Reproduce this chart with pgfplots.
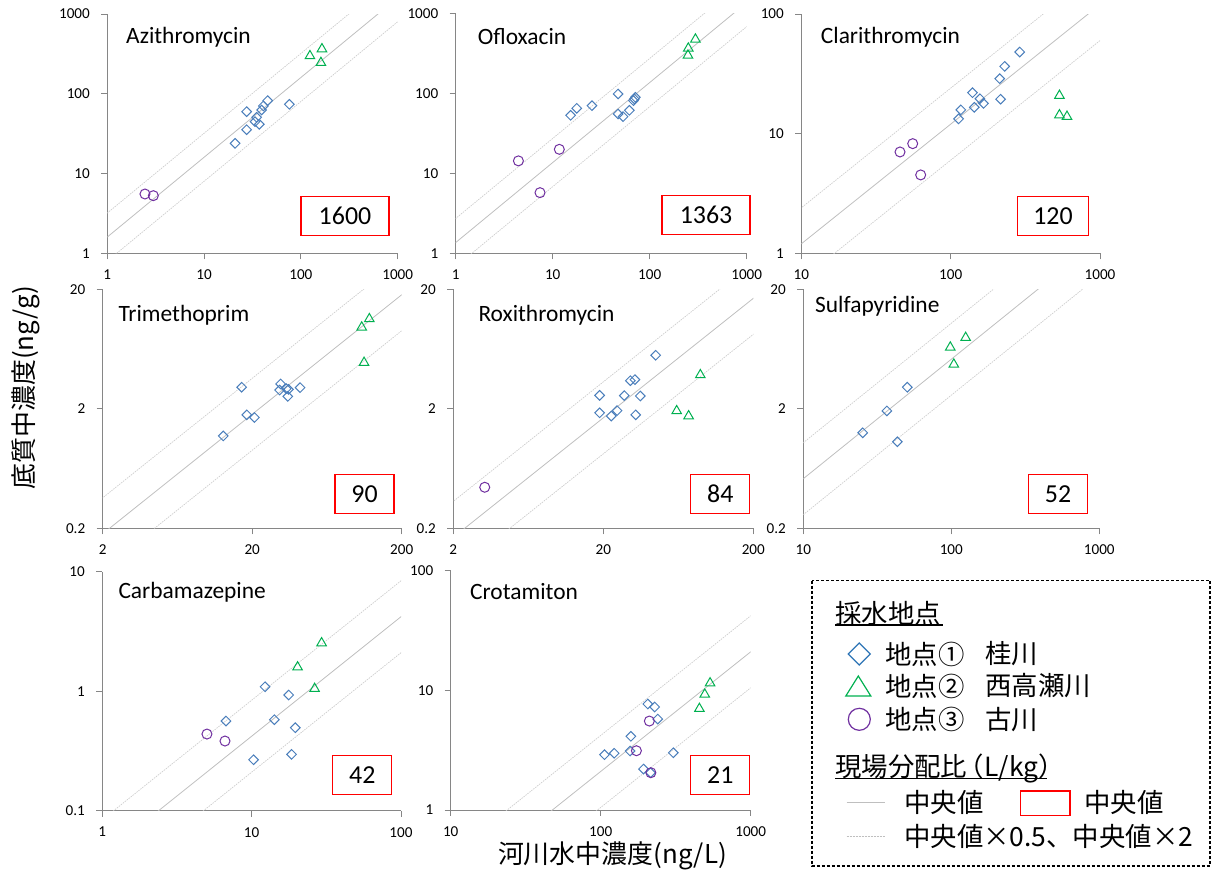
\documentclass[border=0pt]{standalone}
\usepackage{pgfplots}
\pgfplotsset{compat=1.18}
\usepackage{fontspec}
\setmainfont{Carlito}
\newfontfamily\jp{Noto Sans CJK JP}
\definecolor{cblue}{RGB}{74,126,187}
\definecolor{cblueL}{RGB}{46,117,182}
\definecolor{cgreen}{RGB}{0,176,80}
\definecolor{cpurple}{RGB}{112,48,160}
\definecolor{lgray}{RGB}{191,191,191}
\definecolor{lgray2}{RGB}{205,205,205}
\definecolor{axgray}{RGB}{134,134,134}
\newcommand{\ttl}[3]{\node[anchor=west, inner sep=0pt, font=\fontsize{23.5}{26}\selectfont] at (#1bp,-#2bp) {#3};}
\newcommand{\kdbox}[4]{\node[draw=red, line width=1.2bp, minimum width=#3bp, minimum height=39bp, inner sep=0pt, font=\fontsize{26}{28}\selectfont] at (#1bp,-#2bp) {#4};}
\begin{document}
\begin{tikzpicture}
\useasboundingbox (0,0) rectangle (1211bp,-872bp);
% ---------- P1 Azithromycin
\begin{axis}[scale only axis, xmode=log, ymode=log, axis x line*=bottom, axis y line*=left,
  axis line style={axgray, line width=0.9bp}, tick style={axgray, line width=0.9bp},
  major tick length=6bp, tick align=outside, xminorticks=false, yminorticks=false,
  ticklabel style={font=\fontsize{15.2}{16}\selectfont}, yticklabel style={xshift=-8bp}, xticklabel style={yshift=-7bp}, clip mode=individual,
  at={(107.3bp,-253.3bp)}, anchor=south west, width=290.4bp, height=239.3bp,
  xmin=1, xmax=1000, ymin=1, ymax=1000,
  xtick={1,10,100,1000}, xticklabels={1,10,100,1000},
  ytick={1,10,100,1000}, yticklabels={1,10,100,1000}]
\addplot[no marks, lgray2, line width=0.7bp, dash pattern=on 1.5bp off 1bp] coordinates {(0.1,0.32)(10000,32000)};
\addplot[no marks, lgray, line width=0.8bp] coordinates {(0.1,0.16)(10000,16000)};
\addplot[no marks, lgray2, line width=0.7bp, dash pattern=on 1.5bp off 1bp] coordinates {(0.1,0.08)(10000,8000)};
\addplot[only marks, mark=square, mark size=3.4bp, color=cblue, mark options={rotate=45, line width=1bp}] coordinates {(20.9,23.9)(27.5,59.7)(27.5,35.5)(33.6,44.7)(34.9,50.7)(37.2,41.4)(39.3,62.6)(40.9,70.3)(45.4,82.0)(76,73.8)};
\addplot[only marks, mark=triangle, mark size=5.5bp, color=cgreen, mark options={line width=1bp}] coordinates {(124,298)(165,364)(161,245)};
\addplot[only marks, mark=o, mark size=5bp, color=cpurple, mark options={line width=1bp}] coordinates {(2.45,5.54)(2.99,5.28)};
\end{axis}
% ---------- P2 Ofloxacin
\begin{axis}[scale only axis, xmode=log, ymode=log, axis x line*=bottom, axis y line*=left,
  axis line style={axgray, line width=0.9bp}, tick style={axgray, line width=0.9bp},
  major tick length=6bp, tick align=outside, xminorticks=false, yminorticks=false,
  ticklabel style={font=\fontsize{15.2}{16}\selectfont}, yticklabel style={xshift=-8bp}, xticklabel style={yshift=-7bp}, clip mode=individual,
  at={(455.7bp,-253.3bp)}, anchor=south west, width=291bp, height=240bp,
  xmin=1, xmax=1000, ymin=1, ymax=1000,
  xtick={1,10,100,1000}, xticklabels={1,10,100,1000},
  ytick={1,10,100,1000}, yticklabels={1,10,100,1000}]
\addplot[no marks, lgray2, line width=0.7bp, dash pattern=on 1.5bp off 1bp] coordinates {(0.1,0.2726)(10000,27260)};
\addplot[no marks, lgray, line width=0.8bp] coordinates {(0.1,0.1363)(10000,13630)};
\addplot[no marks, lgray2, line width=0.7bp, dash pattern=on 1.5bp off 1bp] coordinates {(0.1,0.06815)(10000,6815)};
\addplot[only marks, mark=square, mark size=3.4bp, color=cblue, mark options={rotate=45, line width=1bp}] coordinates {(15.3,53.1)(17.7,64.9)(25.4,70.1)(47.2,98.1)(47.2,55.2)(53.1,51.1)(61.7,61.3)(67.9,81.0)(71.2,89.1)(69.5,85)};
\addplot[only marks, mark=triangle, mark size=5.5bp, color=cgreen, mark options={line width=1bp}] coordinates {(296,473)(250,365)(248,298)};
\addplot[only marks, mark=o, mark size=5bp, color=cpurple, mark options={line width=1bp}] coordinates {(4.43,14.3)(11.7,19.95)(7.40,5.73)};
\end{axis}
% ---------- P3 Clarithromycin
\begin{axis}[scale only axis, xmode=log, ymode=log, axis x line*=bottom, axis y line*=left,
  axis line style={axgray, line width=0.9bp}, tick style={axgray, line width=0.9bp},
  major tick length=6bp, tick align=outside, xminorticks=false, yminorticks=false,
  ticklabel style={font=\fontsize{15.2}{16}\selectfont}, yticklabel style={xshift=-8bp}, xticklabel style={yshift=-7bp}, clip mode=individual,
  at={(801.3bp,-253.3bp)}, anchor=south west, width=298.7bp, height=239.3bp,
  xmin=10, xmax=1000, ymin=1, ymax=100,
  xtick={10,100,1000}, xticklabels={10,100,1000},
  ytick={1,10,100}, yticklabels={1,10,100}]
\addplot[no marks, lgray2, line width=0.7bp, dash pattern=on 1.5bp off 1bp] coordinates {(1,0.24)(10000,2400)};
\addplot[no marks, lgray, line width=0.8bp] coordinates {(1,0.12)(10000,1200)};
\addplot[no marks, lgray2, line width=0.7bp, dash pattern=on 1.5bp off 1bp] coordinates {(1,0.06)(10000,600)};
\addplot[only marks, mark=square, mark size=3.4bp, color=cblue, mark options={rotate=45, line width=1bp}] coordinates {(113,13.3)(117,15.8)(140,22.0)(144,16.6)(157,19.6)(166,17.9)(213,28.8)(216,19.4)(230,36.5)(290,48.1)};
\addplot[only marks, mark=triangle, mark size=5.5bp, color=cgreen, mark options={line width=1bp}] coordinates {(535,20.8)(535,14.3)(601,13.9)};
\addplot[only marks, mark=o, mark size=5bp, color=cpurple, mark options={line width=1bp}] coordinates {(45.8,7.03)(55.7,8.25)(63.0,4.52)};
\end{axis}
% ---------- P4 Trimethoprim
\begin{axis}[scale only axis, xmode=log, ymode=log, axis x line*=bottom, axis y line*=left,
  axis line style={axgray, line width=0.9bp}, tick style={axgray, line width=0.9bp},
  major tick length=6bp, tick align=outside, xminorticks=false, yminorticks=false,
  ticklabel style={font=\fontsize{15.2}{16}\selectfont}, yticklabel style={xshift=-8bp}, xticklabel style={yshift=-7bp}, clip mode=individual,
  at={(102.7bp,-528.3bp)}, anchor=south west, width=299bp, height=239bp,
  xmin=2, xmax=200, ymin=0.2, ymax=20,
  xtick={2,20,200}, xticklabels={2,20,200},
  ytick={0.2,2,20}, yticklabels={0.2,2,20}]
\addplot[no marks, lgray2, line width=0.7bp, dash pattern=on 1.5bp off 1bp] coordinates {(0.2,0.036)(2000,360)};
\addplot[no marks, lgray, line width=0.8bp] coordinates {(0.2,0.018)(2000,180)};
\addplot[no marks, lgray2, line width=0.7bp, dash pattern=on 1.5bp off 1bp] coordinates {(0.2,0.009)(2000,90)};
\addplot[only marks, mark=square, mark size=3.4bp, color=cblue, mark options={rotate=45, line width=1bp}] coordinates {(12.8,1.185)(17.0,3.03)(18.4,1.78)(20.7,1.69)(31.0,3.23)(30.5,2.87)(33.8,2.95)(35.0,2.91)(34.6,2.54)(41.8,3.01)};
\addplot[only marks, mark=triangle, mark size=5.5bp, color=cgreen, mark options={line width=1bp}] coordinates {(121.5,11.3)(108,9.62)(112,4.87)};
\end{axis}
% ---------- P5 Roxithromycin
\begin{axis}[scale only axis, xmode=log, ymode=log, axis x line*=bottom, axis y line*=left,
  axis line style={axgray, line width=0.9bp}, tick style={axgray, line width=0.9bp},
  major tick length=6bp, tick align=outside, xminorticks=false, yminorticks=false,
  ticklabel style={font=\fontsize{15.2}{16}\selectfont}, yticklabel style={xshift=-8bp}, xticklabel style={yshift=-7bp}, clip mode=individual,
  at={(453.3bp,-528.3bp)}, anchor=south west, width=300bp, height=239bp,
  xmin=2, xmax=200, ymin=0.2, ymax=20,
  xtick={2,20,200}, xticklabels={2,20,200},
  ytick={0.2,2,20}, yticklabels={0.2,2,20}]
\addplot[no marks, lgray2, line width=0.7bp, dash pattern=on 1.5bp off 1bp] coordinates {(0.2,0.0336)(2000,336)};
\addplot[no marks, lgray, line width=0.8bp] coordinates {(0.2,0.0168)(2000,168)};
\addplot[no marks, lgray2, line width=0.7bp, dash pattern=on 1.5bp off 1bp] coordinates {(0.2,0.0084)(2000,84)};
\addplot[only marks, mark=square, mark size=3.4bp, color=cblue, mark options={rotate=45, line width=1bp}] coordinates {(44.7,5.61)(30.3,3.44)(32.5,3.51)(18.9,2.59)(27.6,2.58)(35.3,2.56)(18.9,1.85)(24.7,1.93)(22.6,1.74)(32.9,1.78)};
\addplot[only marks, mark=triangle, mark size=5.5bp, color=cgreen, mark options={line width=1bp}] coordinates {(88.7,3.84)(61.7,1.92)(74.1,1.74)};
\addplot[only marks, mark=o, mark size=5bp, color=cpurple, mark options={line width=1bp}] coordinates {(3.24,0.441)};
\end{axis}
% ---------- P6 Sulfapyridine
\begin{axis}[scale only axis, xmode=log, ymode=log, axis x line*=bottom, axis y line*=left,
  axis line style={axgray, line width=0.9bp}, tick style={axgray, line width=0.9bp},
  major tick length=6bp, tick align=outside, xminorticks=false, yminorticks=false,
  ticklabel style={font=\fontsize{15.2}{16}\selectfont}, yticklabel style={xshift=-8bp}, xticklabel style={yshift=-7bp}, clip mode=individual,
  at={(803.3bp,-528.3bp)}, anchor=south west, width=296bp, height=239bp,
  xmin=10, xmax=1000, ymin=0.2, ymax=20,
  xtick={10,100,1000}, xticklabels={10,100,1000},
  ytick={0.2,2,20}, yticklabels={0.2,2,20}]
\addplot[no marks, lgray2, line width=0.7bp, dash pattern=on 1.5bp off 1bp] coordinates {(1,0.104)(10000,1040)};
\addplot[no marks, lgray, line width=0.8bp] coordinates {(1,0.052)(10000,520)};
\addplot[no marks, lgray2, line width=0.7bp, dash pattern=on 1.5bp off 1bp] coordinates {(1,0.026)(10000,260)};
\addplot[only marks, mark=square, mark size=3.4bp, color=cblue, mark options={rotate=45, line width=1bp}] coordinates {(25.2,1.26)(36.7,1.92)(50.4,3.03)(43.2,1.06)};
\addplot[only marks, mark=triangle, mark size=5.5bp, color=cgreen, mark options={line width=1bp}] coordinates {(125,7.88)(98.4,6.54)(104,4.71)};
\end{axis}
% ---------- P7 Carbamazepine
\begin{axis}[scale only axis, xmode=log, ymode=log, axis x line*=bottom, axis y line*=left,
  axis line style={axgray, line width=0.9bp}, tick style={axgray, line width=0.9bp},
  major tick length=6bp, tick align=outside, xminorticks=false, yminorticks=false,
  ticklabel style={font=\fontsize{15.2}{16}\selectfont}, yticklabel style={xshift=-8bp}, xticklabel style={yshift=-7bp}, clip mode=individual,
  at={(102.3bp,-810.7bp)}, anchor=south west, width=298.7bp, height=239bp,
  xmin=1, xmax=100, ymin=0.1, ymax=10,
  xtick={1,10,100}, xticklabels={1,10,100},
  ytick={0.1,1,10}, yticklabels={0.1,1,10}]
\addplot[no marks, lgray2, line width=0.7bp, dash pattern=on 1.5bp off 1bp] coordinates {(0.1,0.0084)(1000,84)};
\addplot[no marks, lgray, line width=0.8bp] coordinates {(0.1,0.0042)(1000,42)};
\addplot[no marks, lgray2, line width=0.7bp, dash pattern=on 1.5bp off 1bp] coordinates {(0.1,0.0021)(1000,21)};
\addplot[only marks, mark=square, mark size=3.4bp, color=cblue, mark options={rotate=45, line width=1bp}] coordinates {(12.3,1.09)(17.7,0.929)(6.73,0.563)(14.2,0.578)(19.6,0.495)(10.3,0.267)(18.5,0.296)};
\addplot[only marks, mark=triangle, mark size=5.5bp, color=cgreen, mark options={line width=1bp}] coordinates {(29.4,2.53)(20.3,1.59)(26.4,1.05)};
\addplot[only marks, mark=o, mark size=5bp, color=cpurple, mark options={line width=1bp}] coordinates {(5.02,0.438)(6.63,0.383)};
\end{axis}
% ---------- P8 Crotamiton
\begin{axis}[scale only axis, xmode=log, ymode=log, axis x line*=bottom, axis y line*=left,
  axis line style={axgray, line width=0.9bp}, tick style={axgray, line width=0.9bp},
  major tick length=6bp, tick align=outside, xminorticks=false, yminorticks=false,
  ticklabel style={font=\fontsize{15.2}{16}\selectfont}, yticklabel style={xshift=-8bp}, xticklabel style={yshift=-7bp}, clip mode=individual,
  at={(450.7bp,-810bp)}, anchor=south west, width=300bp, height=239.3bp,
  xmin=10, xmax=1000, ymin=1, ymax=100,
  xtick={10,100,1000}, xticklabels={10,100,1000},
  ytick={1,10,100}, yticklabels={1,10,100}]
\addplot[no marks, lgray2, line width=0.7bp, dash pattern=on 1.5bp off 1bp] coordinates {(1,0.042)(10000,420)};
\addplot[no marks, lgray, line width=0.8bp] coordinates {(1,0.021)(10000,210)};
\addplot[no marks, lgray2, line width=0.7bp, dash pattern=on 1.5bp off 1bp] coordinates {(1,0.0105)(10000,105)};
\addplot[only marks, mark=square, mark size=3.4bp, color=cblue, mark options={rotate=45, line width=1bp}] coordinates {(206,7.69)(229,7.26)(240,5.76)(159,4.13)(106,2.90)(123,2.98)(157,3.11)(305,3.01)(193,2.20)(215,2.05)};
\addplot[only marks, mark=triangle, mark size=5.5bp, color=cgreen, mark options={line width=1bp}] coordinates {(536,11.5)(494,9.26)(455,7.03)};
\addplot[only marks, mark=o, mark size=5bp, color=cpurple, mark options={line width=1bp}] coordinates {(211,5.54)(173,3.13)(216,2.05)};
\end{axis}
% ---------- titles
\ttl{126}{37}{Azithromycin}
\ttl{477.7}{37}{Ofloxacin}
\ttl{820.7}{37}{Clarithromycin}
\ttl{118.3}{315}{Trimethoprim}
\ttl{478.3}{315}{Roxithromycin}
\ttl{815}{306.7}{Sulfapyridine}
\ttl{118.3}{592.3}{Carbamazepine}
\ttl{470}{591.7}{Crotamiton}
% ---------- Kd boxes
\kdbox{345}{216}{88}{1600}
\kdbox{706}{215.3}{88}{1363}
\kdbox{1053}{216}{71}{120}
\kdbox{364.5}{494}{59}{90}
\kdbox{720.3}{494}{59}{84}
\kdbox{1058}{494}{59}{52}
\kdbox{362.3}{775.3}{59}{42}
\kdbox{720.3}{775.3}{59}{21}
% ---------- axis labels
\node[rotate=90, inner sep=0pt, font=\jp\fontsize{26}{28}\selectfont] at (26bp,-387.5bp) {底質中濃度(ng/g)};
\node[inner sep=0pt, font=\jp\fontsize{26}{28}\selectfont] at (612.5bp,-856bp) {河川水中濃度(ng/L)};
% ---------- legend
\draw[line width=1.2bp, dash pattern=on 3bp off 2bp] (812bp,-580.7bp) rectangle (1210bp,-866bp);
\begin{scope}[every node/.style={anchor=west, inner sep=0pt, font=\jp\fontsize{26.5}{28}\selectfont}]
\node at (835bp,-613bp) {採水地点};
\draw[line width=1.1bp] (835bp,-625bp) -- (943bp,-625bp);
\draw[cblueL, line width=1.2bp] (848.3bp,-654bp) -- (859.3bp,-643bp) -- (870.3bp,-654bp) -- (859.3bp,-665bp) -- cycle;
\node at (885bp,-654bp) {地点①};
\node at (985bp,-654bp) {桂川};
\draw[cgreen, line width=1.2bp] (845.8bp,-696bp) -- (870.8bp,-696bp) -- (858.3bp,-676bp) -- cycle;
\node at (885bp,-686bp) {地点②};
\node at (985bp,-686bp) {西高瀬川};
\draw[cpurple, line width=1.2bp] (859.3bp,-719.3bp) circle (11bp);
\node at (885bp,-719.3bp) {地点③};
\node at (985bp,-719.3bp) {古川};
\node at (835bp,-768.3bp) {現場分配比\kern-0.35em（L/kg）};
\draw[line width=1.1bp] (835bp,-778.5bp) -- (1047bp,-778.5bp);
\draw[lgray, line width=1.1bp] (846.7bp,-802.7bp) -- (885bp,-802.7bp);
\node at (904bp,-802.7bp) {中央値};
\draw[red, line width=1.2bp] (1020.7bp,-791bp) rectangle (1070bp,-815.7bp);
\node at (1084bp,-802.7bp) {中央値};
\draw[lgray, line width=1bp, dash pattern=on 2bp off 1bp] (846.7bp,-836.7bp) -- (885bp,-836.7bp);
\node at (904bp,-836.7bp) {中央値×0.5、中央値×2};
\end{scope}
\end{tikzpicture}
\end{document}
